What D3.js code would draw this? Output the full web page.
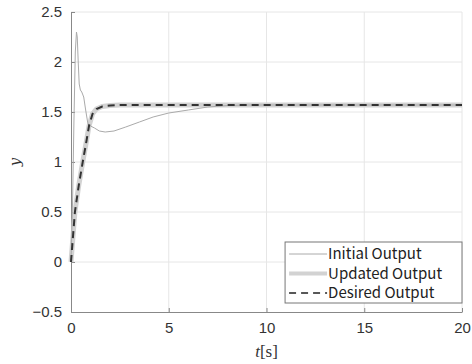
<!DOCTYPE html>
<html>
<head>
<meta charset="utf-8">
<script src="https://cdn.jsdelivr.net/npm/d3@7"></script>
<style>
  body { margin: 0; background: #fff; }
  svg { display: block; }
</style>
</head>
<body>
<div id="chart"></div>
<script>
// data
const initialT = [0, 0.08, 0.15, 0.22, 0.28, 0.32, 0.37, 0.42, 0.48, 0.55, 0.65, 0.75, 0.85, 0.92, 1.0, 1.2, 1.45, 1.75, 2.2, 2.8, 3.5, 4.2, 5, 6, 7, 8, 9, 20];
const initialY = [0, 0.6, 1.4, 2.1, 2.3, 2.25, 2.0, 1.78, 1.72, 1.7, 1.65, 1.52, 1.4, 1.36, 1.36, 1.34, 1.31, 1.3, 1.31, 1.35, 1.4, 1.45, 1.49, 1.52, 1.55, 1.565, 1.57, 1.57];
const desiredT = [0, 0.2, 0.4, 0.6, 0.8, 0.92, 1.1, 1.3, 1.6, 2.0, 2.5, 3, 20];
const desiredY = [0, 0.5, 0.77, 1.0, 1.22, 1.36, 1.48, 1.53, 1.555, 1.565, 1.57, 1.57, 1.57];
const updatedT = desiredT;
const updatedY = desiredY;
const xTicks = [0, 5, 10, 15, 20];
const yTicks = [-0.5, 0, 0.5, 1, 1.5, 2, 2.5];
const legendNames = ['Initial Output', 'Updated Output', 'Desired Output'];

const W = 472, H = 364;
const margin = { top: 12, right: 10, bottom: 52, left: 71 };
const width = W - margin.left - margin.right;
const height = H - margin.top - margin.bottom;

const svg = d3.select('#chart').append('svg')
  .attr('width', W).attr('height', H);
const g = svg.append('g')
  .attr('transform', `translate(${margin.left},${margin.top})`);

const x = d3.scaleLinear().domain([0, 20]).range([0, width]);
const y = d3.scaleLinear().domain([-0.5, 2.5]).range([height, 0]);

// grid
g.append('g').selectAll('line').data(xTicks.slice(1)).enter().append('line')
  .attr('x1', d => x(d)).attr('x2', d => x(d))
  .attr('y1', 0).attr('y2', height)
  .attr('stroke', '#e6e6e6').attr('stroke-width', 1);
g.append('g').selectAll('line').data(yTicks.slice(1)).enter().append('line')
  .attr('x1', 0).attr('x2', width)
  .attr('y1', d => y(d)).attr('y2', d => y(d))
  .attr('stroke', '#e6e6e6').attr('stroke-width', 1);

// axes
const xAxis = g.append('g')
  .attr('transform', `translate(0,${height})`)
  .call(d3.axisBottom(x).tickValues(xTicks).tickSizeInner(-4).tickSizeOuter(0).tickPadding(10));
const yAxis = g.append('g')
  .call(d3.axisLeft(y).tickValues(yTicks).tickSizeInner(-4).tickSizeOuter(0).tickPadding(9)
    .tickFormat(d => d < 0 ? '\u2212' + Math.abs(d) : d));
[xAxis, yAxis].forEach(a => {
  a.select('.domain').attr('stroke', '#888');
  a.selectAll('.tick line').attr('stroke', '#888');
  a.selectAll('text').attr('fill', '#333').style('font-family', 'Arial, "Liberation Sans", sans-serif').style('font-size', '15px');
});

const line = (ts, ys) => d3.line()
  .x((d, i) => x(ts[i]))
  .y(d => y(d))(ys);

// updated output (thick light)
g.append('path').attr('d', line(updatedT, updatedY))
  .attr('fill', 'none').attr('stroke', '#d2d2d2').attr('stroke-width', 5);
// initial output
g.append('path').attr('d', line(initialT, initialY))
  .attr('fill', 'none').attr('stroke', '#aaa').attr('stroke-width', 1);
// desired output
g.append('path').attr('d', line(desiredT, desiredY))
  .attr('fill', 'none').attr('stroke', '#333').attr('stroke-width', 2)
  .attr('stroke-dasharray', '7,5');

// axis labels
svg.append('text')
  .attr('transform', `translate(20,${margin.top + y(1)}) rotate(-90)`)
  .attr('text-anchor', 'middle')
  .style('font-family', '"DejaVu Serif", "Liberation Serif", serif')
  .style('font-style', 'italic').style('font-size', '15px').attr('fill', '#333')
  .text('y');
const tl = svg.append('text')
  .attr('x', margin.left + x(10)).attr('y', 357)
  .attr('text-anchor', 'middle')
  .style('font-family', '"Liberation Serif", "DejaVu Serif", serif')
  .style('font-size', '17px').attr('fill', '#333');
tl.append('tspan').style('font-style', 'italic').text('t');
tl.append('tspan').text('[s]');

// legend
const lg = g.append('g').attr('transform', `translate(${x(10.95)},${y(0.2)})`);
lg.append('rect').attr('width', x(20) - x(10.95)).attr('height', 61)
  .attr('fill', '#fff').attr('stroke', '#777').attr('stroke-width', 1);
const legendStyles = [
  { stroke: '#aaa', w: 1, dash: null },
  { stroke: '#d2d2d2', w: 4, dash: null },
  { stroke: '#222', w: 1.5, dash: '7,5' }
];
legendNames.forEach((name, i) => {
  const cy = 12 + i * 19.5;
  lg.append('line').attr('x1', 4).attr('x2', 42).attr('y1', cy).attr('y2', cy)
    .attr('stroke', legendStyles[i].stroke).attr('stroke-width', legendStyles[i].w)
    .attr('stroke-dasharray', legendStyles[i].dash);
  lg.append('text').attr('x', 43).attr('y', cy + 5)
    .style('font-family', '"Noto Sans CJK JP", sans-serif').style('font-size', '15px')
    .attr('fill', '#222').text(name);
});
</script>
</body>
</html>
